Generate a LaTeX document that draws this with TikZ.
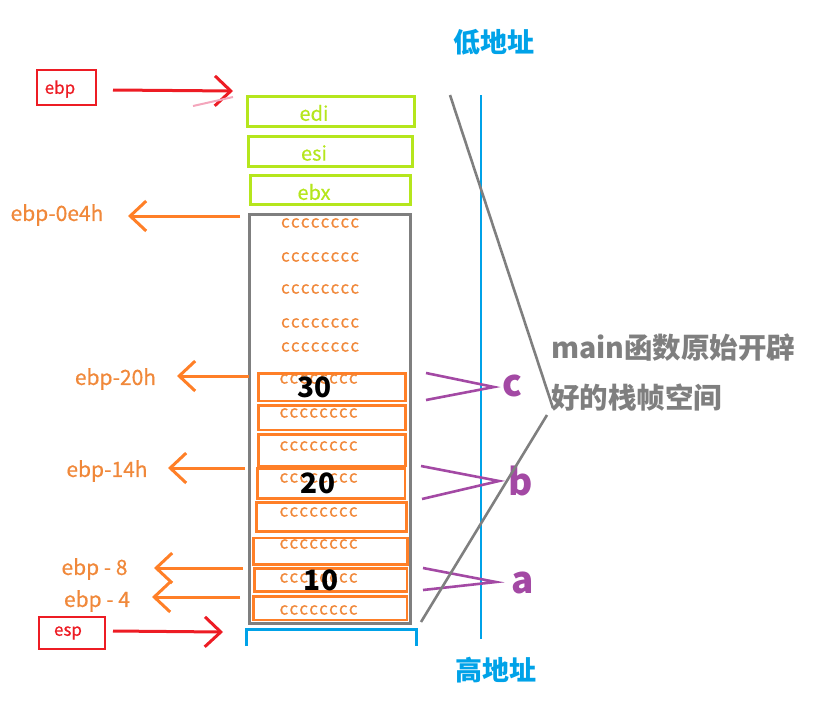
\documentclass[tikz,border=0pt]{standalone}
\usepackage{fontspec}
\setmainfont{Noto Sans CJK SC}
\newfontfamily\semib{Noto Sans CJK SC}[FakeBold=0.5]
\usetikzlibrary{arrows.meta,fit}
\definecolor{pred}{HTML}{ED1C24}
\definecolor{pgreen}{HTML}{B5E61D}
\definecolor{porange}{HTML}{FF7F27}
\definecolor{otext}{HTML}{F0883A}
\definecolor{ppurple}{HTML}{A349A4}
\definecolor{pblue}{HTML}{00A2E8}
\definecolor{pgray}{HTML}{7F7F7F}
\definecolor{ppink}{HTML}{F4A6BC}
\newcommand{\fs}[1]{\fontsize{#1}{#1}\selectfont}
\newcommand{\ccrow}{\hbox to 78pt{c\hfill c\hfill c\hfill c\hfill c\hfill c\hfill c\hfill c}}
\begin{document}
\begin{tikzpicture}[x=1pt,y=-1pt,
  box/.style={draw, inner sep=0pt, line width=3pt},
  gbox/.style={box, draw=pgreen},
  obox/.style={box, draw=porange, line width=2.8pt},
  rbox/.style={box, draw=pred, line width=2pt},
  gtext/.style={text=pgreen, font=\semib\fs{20}, inner sep=0pt},
  ctext/.style={text=otext, font=\semib\fs{17}, inner sep=0pt},
  otxt/.style={text=otext, font=\semib\fs{21}, inner sep=0pt},
  num/.style={text=black, font=\fs{28}\bfseries, inner sep=0pt},
  ptext/.style={text=ppurple, font=\fs{37}\bfseries, inner sep=0pt},
  btext/.style={text=pblue, font=\fs{27}\bfseries, inner sep=0pt},
  graytext/.style={text=pgray, font=\fs{28.5}\bfseries, inner sep=0pt, anchor=west},
  oarrow/.style={draw=porange, line width=3pt, -{Straight Barb[length=16pt,width=30pt,line width=3pt]}},
  rarrow/.style={draw=pred, line width=3pt, -{Straight Barb[length=16pt,width=30pt,line width=3pt]}},
  chev/.style={draw=ppurple, line width=2.6pt},
  diag/.style={draw=pgray, line width=2.6pt},
]
\useasboundingbox (0,0) rectangle (826,705);

% address labels and axis
\node[btext] (low) at (494,42) {低地址};
\node[btext] (high) at (496,670) {高地址};
\coordinate (axtop) at (481,95);
\coordinate (axbot) at (481,639);
\draw[pblue, line width=1.3pt] (axtop) -- (axbot);

% green boxes
\node[gbox, fit={(247.5,96.5) (414.5,126.5)}] (edi) {};
\node[gbox, fit={(248.5,136.5) (412.5,166.5)}] (esi) {};
\node[gbox, fit={(250.5,175.5) (410.5,204.5)}] (ebx) {};
\node[gtext] (tedi) at (314,113) {edi};
\node[gtext] (tesi) at (314,153) {esi};
\node[gtext] (tebx) at (314,192) {ebx};

% gray frame
\node[box, draw=pgray, fit={(249.5,214.5) (410.5,623.5)}] (frame) {};

% orange boxes
\node[obox, fit={(258.5,373.5) (405.5,401)}] (o1) {};
\node[obox, fit={(258.5,405.5) (405.5,430)}] (o2) {};
\node[obox, fit={(258.5,434.5) (405.5,466)}] (o3) {};
\node[obox, fit={(257.5,468.5) (405,498.5)}] (o4) {};
\node[obox, fit={(256.5,502.5) (406.5,531.5)}] (o5) {};
\node[obox, fit={(253.5,538) (407.5,564.5)}] (o6) {};
\node[obox, fit={(254.5,568.5) (407,591.5)}] (o7) {};
\node[obox, fit={(253.5,596.5) (407,620)}] (o8) {};

% cccccccc rows
\foreach \y [count=\i] in {223,257,289,323,347}
  \node[ctext] (cu\i) at (320,\y) {\ccrow};
\foreach \y [count=\i] in {379,413,446,478,512,544,578,610}
  \node[ctext] (cl\i) at (318.5,\y) {\ccrow};

% numbers
\node[num] (n30) at (314.5,387) {30};
\node[num] (n20) at (318,483) {20};
\node[num] (n10) at (321,580) {10};

% orange labels and arrows
\node[otxt] (l0e4) at (57,215) {ebp-0e4h};
\node[otxt] (l20) at (115.5,379) {ebp-20h};
\node[otxt] (l14) at (107,471) {ebp-14h};
\node[otxt] (l8) at (94.5,569) {ebp - 8};
\node[otxt] (l4) at (97,601) {ebp - 4};
\coordinate (s0e4) at (240,216); \coordinate (e0e4) at (128,216);
\coordinate (s20) at (249,376);  \coordinate (e20) at (177,376);
\coordinate (s14) at (245,468);  \coordinate (e14) at (168,468);
\coordinate (s8) at (243,568);   \coordinate (e8) at (154,568);
\coordinate (s4) at (240,597);   \coordinate (e4) at (152,597);
\draw[oarrow] (s0e4) -- (e0e4);
\draw[oarrow] (s20) -- (e20);
\draw[oarrow] (s14) -- (e14);
\draw[oarrow] (s8) -- (e8);
\draw[oarrow] (s4) -- (e4);

% red ebp / esp
\node[rbox, fit={(37,70) (96,105)}] (ebpbox) {};
\node[text=pred, font=\semib\fs{17}, inner sep=0pt] (tebp) at (60,89) {ebp};
\coordinate (ebptip) at (233,91);
\coordinate (ebpstart) at (113,90);
\draw[rarrow] (ebpstart) -- (ebptip);
\coordinate (pk1) at (193,106); \coordinate (pk2) at (233,97);
\draw[ppink, line width=2pt] (pk1) -- (pk2);

\node[rbox, fit={(39,617) (105,649)}] (espbox) {};
\node[text=pred, font=\semib\fs{17}, inner sep=0pt] (tesp) at (68,633) {esp};
\coordinate (esptip) at (223,632);
\coordinate (espstart) at (113,631);
\draw[rarrow] (espstart) -- (esptip);

% blue box (cut off)
\coordinate (bb1) at (246,646); \coordinate (bb2) at (246,629);
\coordinate (bb3) at (416,629); \coordinate (bb4) at (416,646);
\draw[pblue, line width=3pt] (bb1) -- (bb2) -- (bb3) -- (bb4);

% purple chevrons
\coordinate (c1) at (426,373); \coordinate (c2) at (494,387); \coordinate (c3) at (426,400);
\coordinate (b1) at (421,466); \coordinate (b2) at (499,481); \coordinate (b3) at (422,499);
\coordinate (a1) at (423,568); \coordinate (a2) at (496,582); \coordinate (a3) at (423,590);
\draw[chev] (c1) -- (c2) -- (c3);
\draw[chev] (b1) -- (b2) -- (b3);
\draw[chev] (a1) -- (a2) -- (a3);
\node[ptext] (lc) at (512.5,386) {c};
\node[ptext] (lb) at (521,481) {b};
\node[ptext] (la) at (522.5,583) {a};

% gray brace lines and text
\coordinate (g1) at (450,95); \coordinate (g2) at (553,408);
\coordinate (g3) at (547,415); \coordinate (g4) at (421,622);
\draw[diag] (g1) -- (g2);
\draw[diag] (g3) -- (g4);
\node[graytext] (m1) at (551,348) {main函数原始开辟};
\node[graytext] (m2) at (551,398) {好的栈帧空间};
\end{tikzpicture}
\end{document}
